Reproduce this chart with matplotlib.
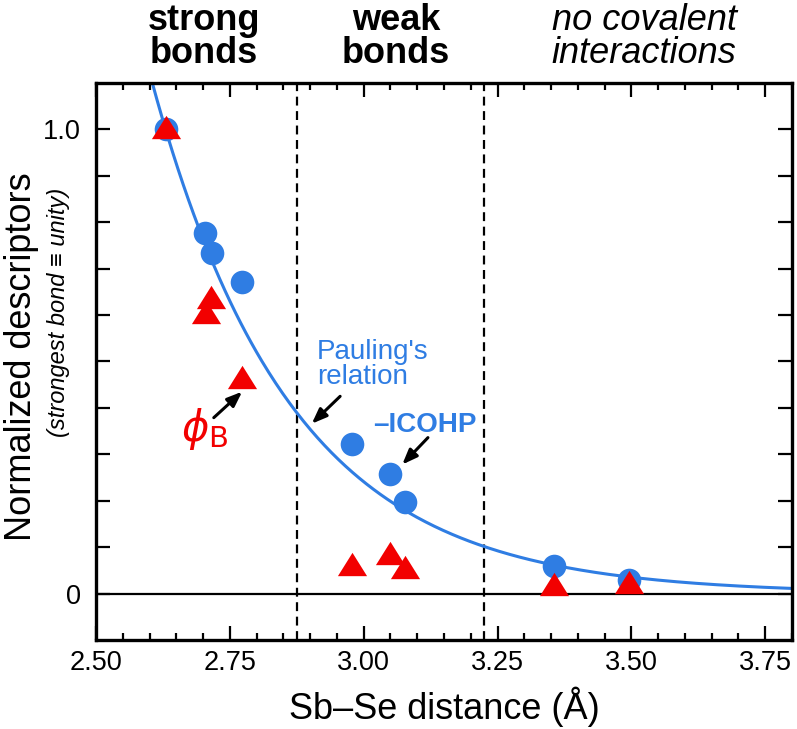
import matplotlib
matplotlib.use('Agg')
import matplotlib.pyplot as plt
import matplotlib.transforms as mtransforms
from matplotlib.ticker import MultipleLocator
import numpy as np

plt.rcParams['font.family'] = ['Liberation Sans', 'DejaVu Sans']
plt.rcParams['mathtext.fontset'] = 'dejavusans'

# -ICOHP (normalized), blue circles
icohp_r = [2.631, 2.704, 2.716, 2.772, 2.978, 3.050, 3.077, 3.355, 3.495]
icohp_v = [1.000, 0.777, 0.734, 0.671, 0.323, 0.258, 0.197, 0.060, 0.030]

# phi_B (normalized), red triangles
phib_r = [2.631, 2.714, 2.705, 2.772, 2.978, 3.049, 3.077, 3.355, 3.495]
phib_v = [1.005, 0.638, 0.607, 0.466, 0.064, 0.088, 0.057, 0.021, 0.025]

# Pauling's relation parameters
r0 = 2.63
b = 0.26

# region boundaries
bounds = [2.875, 3.225]
regions = [(2.702, 'strong\nbonds', 'bold', 'normal'),
           (3.060, 'weak\nbonds', 'bold', 'normal'),
           (3.524, 'no covalent\ninteractions', 'normal', 'italic')]

xticks = [2.50, 2.75, 3.00, 3.25, 3.50, 3.75]
yticks = [0.0, 0.1, 0.2, 0.3, 0.4, 0.5, 0.6, 0.7, 0.8, 0.9, 1.0]

blue = '#2f7de3'
red = '#f20000'

fig = plt.figure(figsize=(7.97, 7.29), dpi=100)
ax = fig.add_axes([96/797, 1-640/729, (792-96)/797, (640-83)/729])

r = np.linspace(2.5, 3.8, 400)
ax.plot(r, np.exp((r0 - r) / b), color=blue, lw=2.2, zorder=2)

ax.axhline(0, color='k', lw=1.6, zorder=1)
for xb in bounds:
    ax.axvline(xb, color='k', lw=1.6, ls=(0, (4, 2.5)), zorder=1)

tri = [(-0.5, -0.4), (0.5, -0.4), (0.0, 0.4)]
ax.plot(icohp_r, icohp_v, 'o', ms=17, color=blue, mec='none', zorder=3)
ax.plot(phib_r, phib_v, ls='none', marker=tri, ms=21, color=red, mec='none', zorder=4)

ax.set_xlim(2.5, 3.8)
ax.set_ylim(-0.1, 1.1)
ax.set_xticks(xticks)
ax.set_xticklabels([f'{t:.2f}' for t in xticks])
ax.xaxis.set_minor_locator(MultipleLocator(0.05))
ax.set_yticks(yticks)
ax.set_yticklabels(['0'] + [''] * 9 + ['1.0'])
ax.tick_params(which='both', direction='in', top=True, right=True, width=1.6, labelsize=19.5)
ax.tick_params(axis='x', which='major', length=10, pad=7)
ax.tick_params(axis='x', which='minor', length=5)
ax.tick_params(axis='y', length=10, pad=11)
for s in ax.spines.values():
    s.set_linewidth(2.4)

ax.set_xlabel('Sb–Se distance (Å)', fontsize=26, labelpad=8)
fig.text(22/797, 1-357/729, 'Normalized descriptors', rotation=90, fontsize=26,
         ha='center', va='center')
fig.text(58/797, 1-312/729, '(strongest bond ≡ unity)', rotation=90, fontsize=17,
         style='italic', ha='center', va='center')

trans = mtransforms.blended_transform_factory(ax.transData, fig.transFigure)
for xc, label, weight, style in regions:
    ax.text(xc, 1-71/729, label, transform=trans, ha='center', va='bottom',
            fontsize=26, fontweight=weight, style=style, linespacing=0.92)

# annotations
ax.text(2.913, 0.548, "Pauling's\nrelation", color=blue, fontsize=20,
        ha='left', va='top', linespacing=0.92)
ax.text(3.017, 0.349, '–ICOHP', color=blue, fontsize=20, fontweight='bold',
        ha='left', va='baseline')
ax.text(2.658, 0.328, r'$\phi_{\mathrm{B}}$', color=red, fontsize=30,
        ha='left', va='baseline')

arrow = dict(arrowstyle='-|>,head_length=0.9,head_width=0.35', color='k', lw=2.2,
             shrinkA=0, shrinkB=0)
ax.annotate('', xy=(2.773, 0.435), xytext=(2.720, 0.379), arrowprops=arrow)
ax.annotate('', xy=(2.903, 0.366), xytext=(2.956, 0.425), arrowprops=arrow)
ax.annotate('', xy=(3.072, 0.278), xytext=(3.120, 0.336), arrowprops=arrow)

fig.savefig('out.png', dpi=100)
